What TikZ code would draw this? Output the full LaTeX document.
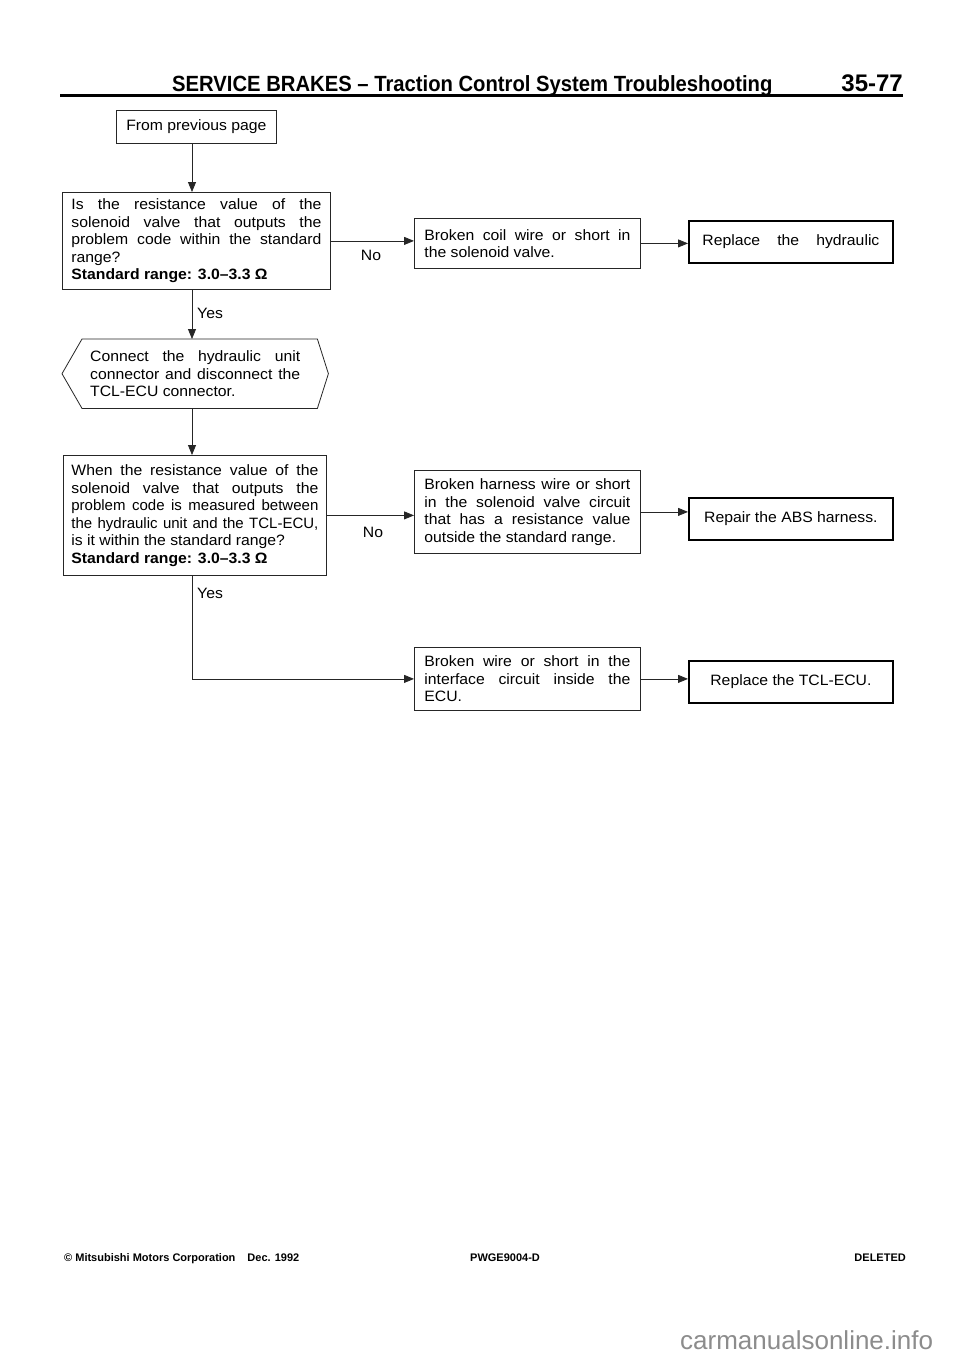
\documentclass[tikz,border=0pt]{standalone}
\usepackage{fontspec}
\setmainfont{Liberation Sans}
\newfontfamily\bodyfont{Liberation Sans}[FakeStretch=1.05]
\newfontfamily\bodynarrow{Liberation Sans}
\usetikzlibrary{arrows.meta}
\tikzset{
  bx/.style={draw=black!85, line width=0.8pt, anchor=north west, inner ysep=0pt,
    font=\bodyfont\fontsize{15}{17.5}\selectfont, align=justify},
  rbx/.style={draw=black, line width=1.8pt, anchor=north west, inner sep=0pt,
    font=\bodyfont\fontsize{15}{17.5}\selectfont, align=center, minimum width=204pt, minimum height=42pt},
  arr/.style={draw=black!85, line width=0.8pt, -{Triangle[length=10pt,width=8pt]}},
  ln/.style={draw=black!85, line width=0.8pt},
  lbl/.style={font=\bodyfont\fontsize{15}{17.5}\selectfont, inner sep=0pt},
  foot/.style={font=\fontsize{11}{13}\selectfont\bfseries, inner sep=0pt, anchor=base west},
}
\begin{document}
\begin{tikzpicture}[x=1pt,y=-1pt]
\fill[white] (0,0) rectangle (960,1358);
\useasboundingbox (0,0) rectangle (960,1358);
\coordinate (sp) at (192,0);

% header
\node[inner sep=0pt, anchor=base west, font=\fontsize{22}{24}\selectfont\bfseries] (head) at (172,91)
  {\scalebox{0.92}[1]{SERVICE BRAKES – Traction Control System Troubleshooting}};
\node[inner sep=0pt, anchor=base east, font=\fontsize{24}{26}\selectfont\bfseries] (pg) at (903,91) {35-77};
\coordinate (rl) at (60,95);
\coordinate (rr) at (903,95);
\draw[line width=3pt] (rl) -- (rr);

% boxes
\node[bx, align=center, inner xsep=0pt, minimum width=160pt, minimum height=33pt] (fp) at (116,110) {From previous page};

\node[bx, inner xsep=9pt, text width=250pt, minimum width=268pt, minimum height=97pt] (q1) at (62,192)
 {Is the resistance value of the\linebreak solenoid valve that outputs the\linebreak problem code within the standard\linebreak range?\par\textbf{Standard range: 3.0–3.3 Ω}};

\node[bx, inner xsep=10pt, text width=206pt, minimum width=226pt, minimum height=50pt] (coil) at (414,218)
 {Broken coil wire or short in\linebreak the solenoid valve.};

\node[rbx] (rep1) at (688,220) {\makebox[177pt][s]{Replace the hydraulic}};

\node[inner sep=0pt, anchor=north west, minimum width=266pt, minimum height=69pt, text width=210pt,
  align=justify, font=\bodyfont\fontsize{15}{17.5}\selectfont] (hex) at (62,339)
 {Connect the hydraulic unit\linebreak connector and disconnect the\linebreak TCL-ECU connector.};
\draw[ln] ([xshift=20pt]hex.north west) -- ([xshift=-11pt]hex.north east) -- (hex.east)
  -- ([xshift=-11pt]hex.south east) -- ([xshift=20pt]hex.south west) -- (hex.west) -- cycle;

\node[bx, inner xsep=8pt, text width=247pt, minimum width=263pt, minimum height=120pt] (q2) at (63,455)
 {When the resistance value of the\linebreak solenoid valve that outputs the\linebreak {\bodynarrow problem code is measured between}\linebreak {\bodynarrow the hydraulic unit and the TCL-ECU,}\linebreak is it within the standard range?\par\textbf{Standard range: 3.0–3.3 Ω}};

\node[bx, inner xsep=10pt, text width=206pt, minimum width=226pt, minimum height=83pt] (harn) at (414,470)
 {Broken harness wire or short\linebreak in the solenoid valve circuit\linebreak that has a resistance value\linebreak outside the standard range.};

\node[rbx] (rep2) at (688,497) {Repair the ABS harness.};

\node[bx, inner xsep=10pt, text width=206pt, minimum width=226pt, minimum height=63pt] (bot) at (414,647)
 {Broken wire or short in the\linebreak interface circuit inside the\linebreak ECU.};

\node[rbx] (rep3) at (688,660) {Replace the TCL-ECU.};

% connectors
\draw[arr] (fp.south -| sp) -- (q1.north -| sp);
\draw[arr] (q1.east) -- (q1.east -| coil.west);
\draw[arr] (coil.east) -- (coil.east -| rep1.west);
\draw[arr] (q1.south -| sp) -- (hex.north -| sp);
\draw[arr] (hex.south -| sp) -- (q2.north -| sp);
\draw[arr] (q2.east) -- (q2.east -| harn.west);
\draw[arr] (harn.east) -- (harn.east -| rep2.west);
\draw[arr] (q2.south -| sp) |- (bot.west);
\draw[arr] (bot.east) -- (bot.east -| rep3.west);

% labels
\node[lbl, anchor=west] (y1) at (197,313) {Yes};
\node[lbl] (n1) at (371,255) {No};
\node[lbl] (n2) at (373,532) {No};
\node[lbl, anchor=west] (y2) at (197,593) {Yes};

% footer
\node[foot] (f1) at (64,1261) {© Mitsubishi Motors Corporation\hspace{12pt}Dec. 1992};
\node[foot] (f2) at (470,1261) {PWGE9004-D};
\node[foot, anchor=base east] (f3) at (906,1261) {DELETED};
\node[inner sep=0pt, anchor=base west, text=black!45, font=\fontsize{26}{28}\selectfont] (wm) at (680,1349) {carmanualsonline.info};
\end{tikzpicture}
\end{document}
